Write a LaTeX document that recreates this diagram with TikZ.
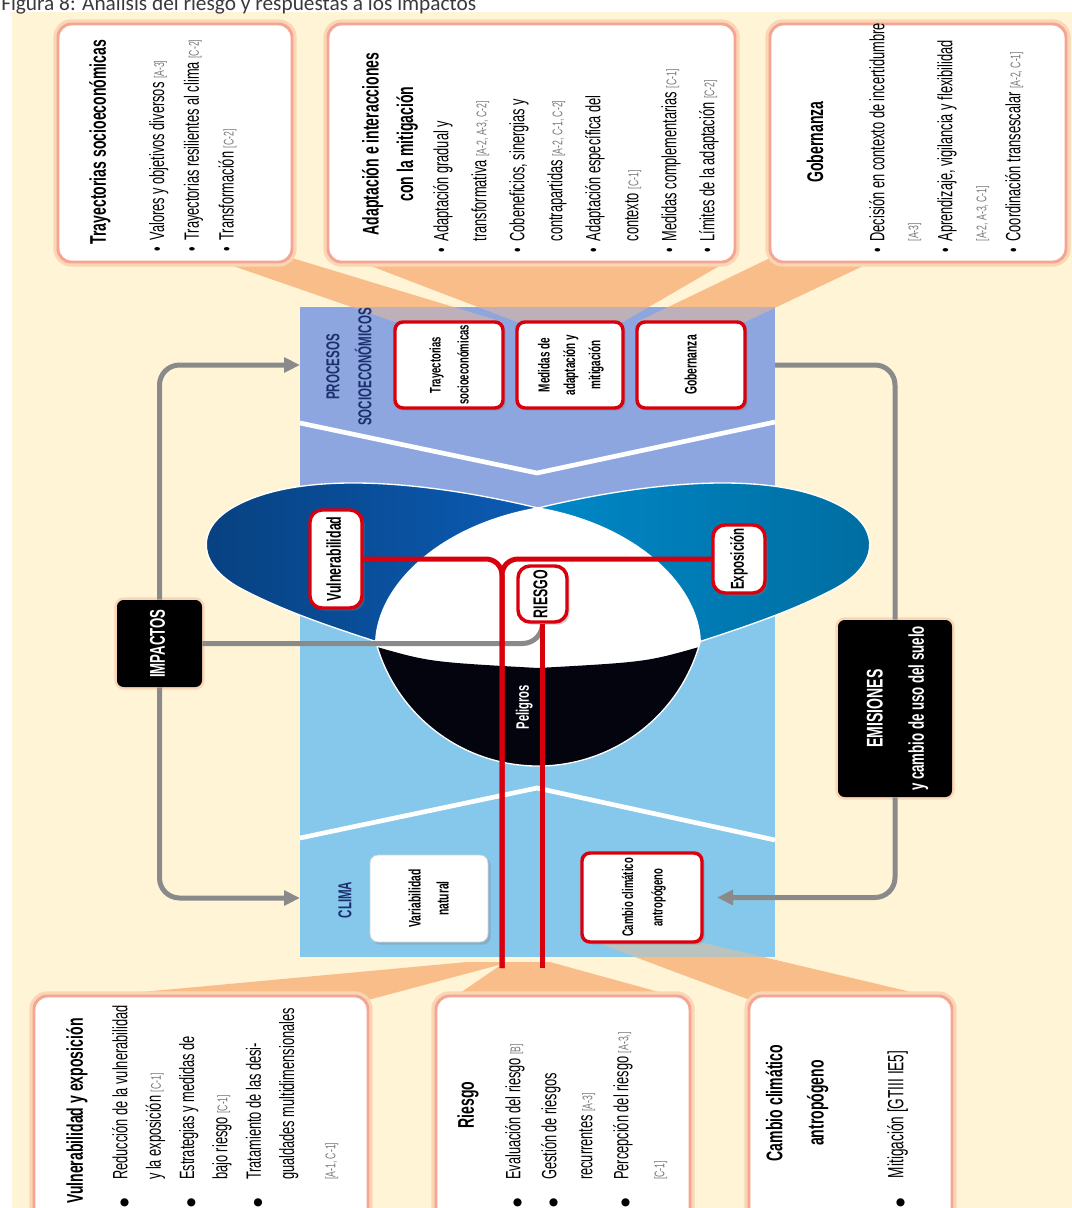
\documentclass[tikz,border=0pt]{standalone}
\usepackage{fontspec}
\usepackage{graphicx}
\setmainfont{Liberation Sans}[FakeStretch=0.62]
\newfontfamily\capfont{Carlito}
\newfontfamily\dotfont{DejaVu Sans}
\usetikzlibrary{fit,shadows,arrows.meta}

\definecolor{cream}{HTML}{FFF5D6}
\definecolor{wedge}{HTML}{F9BD8A}
\definecolor{boxline}{HTML}{F4A593}
\definecolor{glow}{HTML}{FBD6B4}
\definecolor{periw}{HTML}{8EA6DF}
\definecolor{skyb}{HTML}{86C8EC}
\definecolor{navy}{HTML}{1B2F6E}
\definecolor{lobeL}{HTML}{0B5CB5}
\definecolor{lobeR}{HTML}{0088C8}
\definecolor{redc}{HTML}{D9000D}
\definecolor{grayc}{HTML}{8A8A8A}
\definecolor{refgray}{HTML}{7A7A7A}
\definecolor{hazard}{HTML}{04040E}
\definecolor{capgray}{HTML}{3A3A3A}

\newcommand{\rf}[1]{{\fontsize{10.5}{10}\selectfont\color{refgray}[#1]}}
\newcommand{\bu}{\makebox[0.55em][l]{\textbullet}}
\newcommand{\ind}{\hspace*{0.55em}}
\newcommand{\bd}{\makebox[1.35em][l]{\dotfont\fontsize{8}{8}\selectfont ●}}
\newcommand{\bdi}{\hspace*{1.35em}}
\newcommand{\rot}[1]{\rotatebox{90}{\begin{tabular}{@{}c@{}}#1\end{tabular}}}
\newcommand{\callouts}[1]{%
  \fill[#1] (210,258) -- (292,258) -- (503,322) -- (395,322) -- cycle;
  \fill[#1] (350,258) -- (733,258) -- (623,322) -- (517,322) -- cycle;
  \fill[#1] (770,258) -- (880,258) -- (745,322) -- (637,322) -- cycle;
  \fill[#1] (467,962) -- (510,962) -- (368,1000) -- (55,1000) -- cycle;
  \fill[#1] (505,962) -- (550,962) -- (688,1000) -- (450,1000) -- cycle;
  \fill[#1] (595,942) -- (700,942) -- (945,1000) -- (750,1000) -- cycle;}

\begin{document}
\begin{tikzpicture}[x=0.75pt, y=-0.75pt,
  bigbox/.style={fill=white, draw=boxline, line width=2.2pt, rounded corners=10pt, inner sep=0pt, preaction={draw=glow, line width=7pt}},
  smallbox/.style={fill=white, draw=redc, line width=2.6pt, rounded corners=6pt, inner sep=0pt, drop shadow={opacity=.35, shadow xshift=2pt, shadow yshift=-2pt}},
  smalltxt/.style={inner sep=0pt, font=\bfseries\fontsize{11.5}{21}\selectfont},
  midtxt/.style={inner sep=0pt, font=\bfseries\fontsize{15}{18}\selectfont},
  darkbox/.style={fill=black, rounded corners=5pt, inner sep=0pt, preaction={draw=glow, line width=4pt}},
  headtxt/.style={rotate=90, align=center, inner sep=0pt, font=\bfseries\fontsize{17}{26}\selectfont},
  bodytxt/.style={rotate=90, anchor=north west, align=left, inner sep=0pt, font=\fontsize{15.5}{26}\selectfont},
  bandtxt/.style={text=navy, inner sep=0pt, font=\bfseries\fontsize{14}{24}\selectfont},
  conn/.style={grayc, line width=3.75pt, rounded corners=15pt},
  redl/.style={redc, line width=3.75pt, rounded corners=12pt},
  garrow/.style={-{Triangle[length=12pt,width=11pt]}}]
\useasboundingbox (0,0) rectangle (1072,1208);
\fill[cream] (12,12) rectangle (1072,1208);
\node[anchor=base west, inner sep=0pt, text=capgray, font=\capfont\fontsize{16}{16}\selectfont] (caption) at (1,10) {Figura 8: Análisis del riesgo y respuestas a los impactos};

\callouts{wedge}
\node[bigbox, fit={(58,24) (292,262)}] (bx-tray) {};
\node[bigbox, fit={(328,24) (735,262)}] (bx-adap) {};
\node[bigbox, fit={(770,24) (1066,262)}] (bx-gobe) {};
\node[bigbox, fit={(34,996) (368,1230)}] (bx-vul) {};
\node[bigbox, fit={(436,996) (690,1230)}] (bx-ries) {};
\node[bigbox, fit={(749,996) (952,1230)}] (bx-camb) {};

% bands
\node[fill=periw, inner sep=0pt, fit={(300,307) (775,560)}] (proc) {};
\node[fill=skyb, inner sep=0pt, fit={(300,560) (775,957)}] (clima) {};
\draw[white, line width=3.5pt] (300,423) -- (537,473) -- (775,422);
\draw[white, line width=3.5pt] (300,838) -- (537,788) -- (775,840);
\begin{scope}
\clip (300,307) rectangle (775,957);
\callouts{wedge, opacity=.45}
\end{scope}

% risk figure
\coordinate (cl) at ([shift={(538,598)}]165:168);
\coordinate (cr) at ([shift={(538,598)}]15:168);
\fill[white] (cl) .. controls (378,585) and (440,525) .. (538,508) .. controls (636,525) and (698,585) .. (cr) arc[start angle=15, end angle=165, radius=168] -- cycle;
\fill[hazard] ([shift={(538,598)}]163:168) .. controls (430,662) .. (538,668) .. controls (646,662) .. ([shift={(538,598)}]17:168) arc[start angle=17, end angle=163, radius=168] -- cycle;
\draw[white, line width=1pt] (cr) arc[start angle=15, end angle=165, radius=168];
\draw[white, line width=1pt, left color=lobeL!70!black, right color=lobeL] (538,508) .. controls (430,482) and (300,468) .. (232,508) .. controls (195,530) and (198,565) .. (240,588) .. controls (285,612) and (335,628) .. (cl) .. controls (378,585) and (440,525) .. (538,508) -- cycle;
\draw[white, line width=1pt, left color=lobeR, right color=lobeR!80!black] (538,508) .. controls (646,482) and (776,468) .. (844,508) .. controls (881,530) and (878,565) .. (836,588) .. controls (791,612) and (741,628) .. (cr) .. controls (698,585) and (636,525) .. (538,508) -- cycle;

% boxes
\node[smallbox, fit={(395,322) (503,408)}] (tray) {};
\node[smallbox, fit={(517,322) (623,408)}] (medi) {};
\node[smallbox, fit={(637,322) (745,408)}] (gobe) {};
\node[smallbox, draw=gray!35, line width=.6pt, fit={(370,855) (488,942)}] (vari) {};
\node[smallbox, fit={(582,853) (702,942)}] (camb) {};
\node[smallbox, rounded corners=9pt, fit={(310,510) (362,608)}] (vul) {};
\node[smallbox, rounded corners=9pt, fit={(713,525) (765,593)}] (expo) {};
\node[smallbox, rounded corners=9pt, fit={(518,566) (567,622)}] (ries) {};
\node[darkbox, fit={(117,600) (202,687)}] (imp) {};
\node[darkbox, fit={(838,620) (952,797)}] (emi) {};

% connectors
\coordinate (procL) at (300,365);
\coordinate (procR) at (775,365);
\coordinate (climL) at (300,898);
\coordinate (rend) at (502,968);
\draw[conn, garrow] (imp.north) |- (procL);
\draw[conn, garrow] (imp.south) |- (climL);
\draw[conn] (procR) -| (emi.north);
\draw[conn, garrow, shorten >=10pt] (emi.south) |- (camb.east);
\draw[conn] (imp.east) -| (ries.south);
\draw[redl] (vul.east) -| (rend);
\draw[redl] (expo.west) -| (rend);
\draw[redl] (ries.south) -- (ries.south |- rend);

% labels
\node[smalltxt] (tray-t) at (tray.center) {\rot{Trayectorias\\socioeconómicas}};
\node[smalltxt, font=\bfseries\fontsize{12}{19}\selectfont] (medi-t) at (medi.center) {\rot{Medidas de\\adaptación y\\mitigación}};
\node[smalltxt, font=\bfseries\fontsize{12.5}{21}\selectfont] (gobe-t) at (gobe.center) {\rot{Gobernanza}};
\node[smalltxt, font=\bfseries\fontsize{12.5}{21}\selectfont] (vari-t) at (vari.center) {\rot{Variabilidad\\natural}};
\node[smalltxt, font=\bfseries\fontsize{11.5}{22}\selectfont] (camb-t) at (camb.center) {\rot{Cambio climático\\antropógeno}};
\node[midtxt] (vul-t) at (vul.center) {\rot{Vulnerabilidad}};
\node[midtxt, font=\bfseries\fontsize{14}{18}\selectfont] (expo-t) at (expo.center) {\rot{Exposición}};
\node[midtxt] (ries-t) at (ries.center) {\rot{RIESGO}};
\node[text=white, inner sep=0pt, font=\bfseries\fontsize{13.5}{13}\selectfont] (peli) at (525,707) {\rot{Peligros}};
\node[text=white, inner sep=0pt, font=\bfseries\fontsize{16}{20}\selectfont] (imp-t) at (imp.center) {\rot{IMPACTOS}};
\node[text=white, inner sep=0pt, font=\bfseries\fontsize{16}{31}\selectfont] (emi-t) at (emi.center) {\rot{{\fontsize{17}{31}\selectfont EMISIONES}\\y cambio de uso del suelo}};
\node[bandtxt] (proc-t) at (349,367) {\rot{PROCESOS\\SOCIOECONÓMICOS}};
\node[bandtxt] (clima-t) at (345,900) {\rot{CLIMA}};

% callout texts
\node[headtxt] (tray-h) at (100,142) {Trayectorias socioeconómicas};
\node[bodytxt] (tray-b) at (149,252) {\bu Valores y objetivos diversos \rf{A-3}\\
  \bu Trayectorias resilientes al clima \rf{C-2}\\
  \bu Transformación \rf{C-2}};
\node[headtxt] (adap-h) at (390,144) {Adaptación e interacciones\\con la mitigación};
\node[bodytxt, font=\fontsize{15.5}{28.5}\selectfont] (adap-b) at (433,253) {\bu Adaptación gradual y\\
  \ind transformativa \rf{A-2, A-3, C-2}\\
  \bu Cobeneficios, sinergias y\\
  \ind contrapartidas \rf{A-2, C-1, C-2}\\
  \bu Adaptación específica del\\
  \ind contexto \rf{C-1}\\
  \bu Medidas complementarias \rf{C-1}\\
  \bu Límites de la adaptación \rf{C-2}};
\node[headtxt] (gobe-h) at (815,142) {Gobernanza};
\node[bodytxt, font=\fontsize{15.5}{25.5}\selectfont] (gobe-b) at (869,253) {\bu Decisión en contexto de incertidumbre\\
  \ind \rf{A-3}\\
  \bu Aprendizaje, vigilancia y flexibilidad\\
  \ind \rf{A-2, A-3, C-1}\\
  \bu Coordinación transescalar \rf{A-2, C-1}};
\node[headtxt, anchor=north west, align=left] (vul-h) at (66,1204) {Vulnerabilidad y exposición};
\node[bodytxt, font=\fontsize{15.5}{25}\selectfont] (vul-b) at (112,1208) {\bd Reducción de la vulnerabilidad\\
  \bdi y la exposición \rf{C-1}\\
  \bd Estrategias y medidas de\\
  \bdi bajo riesgo \rf{C-1}\\
  \bd Tratamiento de las desi-\\
  \bdi gualdades multidimensionales\\[6pt]
  \bdi \rf{A-1, C-1}};
\node[headtxt] (ries-h) at (468,1105) {Riesgo};
\node[bodytxt, font=\fontsize{15.5}{27}\selectfont] (ries-b) at (505,1208) {\bd Evaluación del riesgo \rf{B}\\
  \bd Gestión de riesgos\\
  \bdi recurrentes \rf{A-3}\\
  \bd Percepción del riesgo \rf{A-3,}\\
  \bdi \rf{C-1}};
\node[headtxt, font=\bfseries\fontsize{17}{31}\selectfont] (camb-h) at (797,1103) {Cambio climático\\antropógeno};
\node[bodytxt, font=\fontsize{16.5}{26}\selectfont] (camb-b) at (887,1208) {\bd Mitigación [GTIII IE5]};
\end{tikzpicture}
\end{document}
